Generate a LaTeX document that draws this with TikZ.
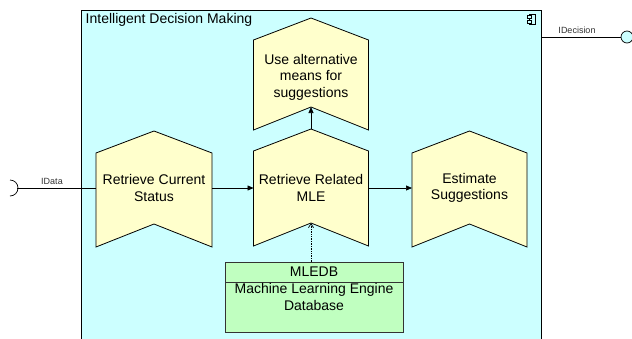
\documentclass[tikz,border=0pt]{standalone}
\usepackage{fontspec}
\setmainfont{Liberation Sans}
\usetikzlibrary{arrows.meta}
\definecolor{boxcyan}{RGB}{204,255,255}
\definecolor{actyellow}{RGB}{255,255,204}
\definecolor{dbgreen}{RGB}{192,255,192}
\definecolor{lblgray}{RGB}{50,50,50}
\tikzset{
  chev/.style={draw=black, fill=actyellow, line width=0.8pt, line join=miter},
  acttext/.style={align=center, font=\fontsize{14}{16.5}\selectfont, inner sep=0pt},
  flow/.style={-{Triangle[length=6pt,width=5pt]}, line width=0.7pt},
  dep/.style={-{Straight Barb[length=4pt,width=5pt]}, densely dotted, line width=0.7pt},
  iface/.style={line width=0.7pt},
  smalllbl/.style={font=\fontsize{9}{10}\selectfont, text=lblgray, inner sep=0pt}
}
\newcommand{\chevron}[5]{% L R yApex yShoulder yBottom  (notch = bottom-23)
  \draw[chev] (#1,#4) -- ({(#1+#2)/2},#3) -- (#2,#4) -- (#2,#5) -- ({(#1+#2)/2},{#5-23}) -- (#1,#5) -- cycle;}
\begin{document}
\begin{tikzpicture}[x=1pt,y=-1pt]
\useasboundingbox (0,0) rectangle (632,338);
\clip (0,0) rectangle (632,338);
% outer component
\draw[fill=boxcyan, line width=0.8pt] (81,10) rectangle (541.5,350);
\node[anchor=west, font=\fontsize{14}{16}\selectfont, inner sep=0pt] (title) at (85.5,20) {Intelligent Decision Making};
% component icon
\node[draw, fill=boxcyan, minimum width=6pt, minimum height=10pt, inner sep=0pt, line width=0.6pt] (cicon) at (532,19) {};
\node[draw, fill=boxcyan, minimum width=4pt, minimum height=2.5pt, inner sep=0pt, line width=0.5pt] (ctab1) at (529,16.5) {};
\node[draw, fill=boxcyan, minimum width=4pt, minimum height=2.5pt, inner sep=0pt, line width=0.5pt] (ctab2) at (529,21.5) {};
% activities
\chevron{96}{212}{131}{153}{247}
\chevron{253.5}{368.5}{18}{40}{130}
\chevron{253.5}{368.5}{129}{151}{246}
\chevron{412}{527}{131}{153}{247}
\node[acttext] (rcs) at (154,188) {Retrieve Current\\Status};
\node[acttext] (uam) at (311,77) {Use alternative\\means for\\suggestions};
\node[acttext] (rrm) at (311,188) {Retrieve Related\\MLE};
\node[acttext] (est) at (469.5,188) {Estimate\\Suggestions};
\coordinate (rcsE) at (212,188);
\coordinate (rrmW) at (253.5,188);
\coordinate (rrmE) at (368.5,188);
\coordinate (estW) at (412,188);
\coordinate (rrmTop) at (311,129);
\coordinate (rrmNotch) at (311,223);
\coordinate (uamNotch) at (311,107);
\coordinate (rcsW) at (96,188);
% database
\draw[fill=dbgreen, draw=black!80, line width=0.8pt] (225,262) rectangle (403,332);
\draw[draw=black!80, line width=0.8pt] (225,282) -- (403,282);
\node[font=\fontsize{14}{16}\selectfont, inner sep=0pt] (mledb) at (314,272) {MLEDB};
\node[acttext] (mledbtxt) at (314,297) {Machine Learning Engine\\Database};
\coordinate (dbTop) at (311,262);
% connectors
\draw[flow] (rcsE) -- (rrmW);
\draw[flow] (rrmE) -- (estW);
\draw[flow] (rrmTop) -- (uamNotch);
\draw[dep] (dbTop) -- (rrmNotch);
% interfaces
\coordinate (idataEnd) at (17,188);
\draw[iface] (idataEnd) -- (rcsW);
\draw[iface] (10,180) arc[start angle=-90, end angle=90, radius=8];
\node[smalllbl, anchor=south] (idata) at (52,185) {IData};
\coordinate (idecStart) at (541.5,37);
\node[draw, circle, fill=boxcyan, minimum size=12pt, inner sep=0pt, line width=0.7pt] (idecball) at (627,37) {};
\draw[iface] (idecStart) -- (idecball);
\node[smalllbl, anchor=south] (idec) at (577,34) {IDecision};
\end{tikzpicture}
\end{document}
